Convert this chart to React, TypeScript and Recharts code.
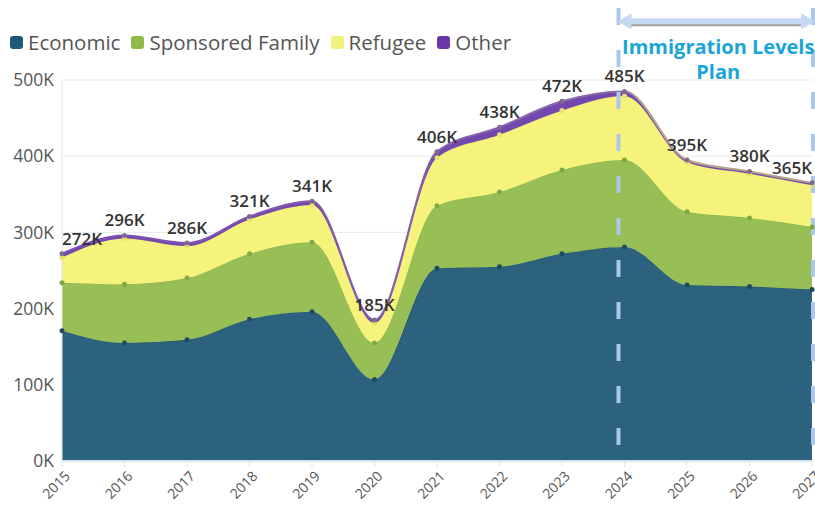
import {
  Area,
  AreaChart,
  CartesianGrid,
  LabelList,
  Legend,
  ReferenceLine,
  XAxis,
  YAxis,
} from "recharts";

// values in thousands
const years = [2015, 2016, 2017, 2018, 2019, 2020, 2021, 2022, 2023, 2024, 2025, 2026, 2027];
const economic = [171, 155, 159, 186, 196, 107, 253, 255, 272, 281, 231, 229, 225];
const sponsoredFamily = [63, 77, 81, 86, 91, 48, 82, 98, 110, 114, 96, 90, 82];
const refugee = [33, 60, 42, 45, 49, 26, 63, 75, 78, 84, 65, 58, 55];
const other = [5, 4, 4, 4, 5, 4, 8, 10, 12, 6, 3, 3, 3];
const totals = [272, 296, 286, 321, 341, 185, 406, 438, 472, 485, 395, 380, 365];
const yTicks = [0, 100, 200, 300, 400, 500];

const planStart = 2024;
const planEnd = 2027;
const planTitle = ["Immigration Levels", "Plan"];

const W = 815;
const H = 505;
const margin = { top: 80, right: 3, bottom: 0, left: 10 };
const Y_AXIS_W = 52;
const plotLeft = margin.left + Y_AXIS_W;
const plotRight = W - margin.right;

const font = "'Open Sans', 'Noto Sans', sans-serif";

const series = [
  { key: "economic", name: "Economic", fill: "#2d627e", stroke: "#245570", dot: "#1e4a62", legend: "#1f5878" },
  { key: "family", name: "Sponsored Family", fill: "#97bf56", stroke: "#8ab34a", dot: "#7fa843", legend: "#8dbb46" },
  { key: "refugee", name: "Refugee", fill: "#f6f37c", stroke: "#ece873", dot: "#e6e26a", legend: "#f0f27a" },
  { key: "other", name: "Other", fill: "#7447ad", stroke: "url(#otherStroke)", dot: "#7d6a8c", legend: "#6a36a8" },
];

const data = years.map((year, i) => ({
  year,
  economic: economic[i],
  family: sponsoredFamily[i],
  refugee: refugee[i],
  other: other[i],
  total: totals[i],
}));

function TotalLabel(props: any) {
  const { x, y, value } = props;
  const text = `${value}K`;
  const half = text.length * 5;
  const cx = Math.max(plotLeft + half, Math.min(plotRight - half, x));
  return (
    <text
      x={cx}
      y={y - 9}
      textAnchor="middle"
      fontFamily={font}
      fontSize={17}
      fontWeight={600}
      fill="#333"
    >
      {text}
    </text>
  );
}

function YearTick(props: any) {
  const { x, y, payload } = props;
  const tx = x + 2;
  const ty = y + 1;
  return (
    <text
      x={tx}
      y={ty}
      dy="0.71em"
      textAnchor="end"
      transform={`rotate(-45, ${tx}, ${ty})`}
      fontFamily={font}
      fontSize={14}
      fill="#555"
    >
      {payload.value}
    </text>
  );
}

function PlanLine(props: any) {
  const { x1, y1, y2, dx = 0 } = props;
  const bottom = Math.max(y1, y2);
  return (
    <line
      x1={x1 + dx}
      x2={x1 + dx}
      y1={8}
      y2={bottom}
      stroke="#a9c8ec"
      strokeWidth={4}
      strokeDasharray="17 25"
    />
  );
}

function PlanArrow(props: any) {
  const { x1, x2, y1 } = props;
  const left = Math.min(x1, x2) - 7;
  const right = Math.max(x1, x2) + 3;
  const mid = (x1 + x2) / 2;
  return (
    <g>
      <line x1={left + 8} x2={right - 8} y1={y1 + 3} y2={y1 + 3} stroke="#555" strokeOpacity={0.55} strokeWidth={4} />
      <line x1={left + 8} x2={right - 8} y1={y1} y2={y1} stroke="#c4d9f1" strokeWidth={6} />
      <polygon points={`${left},${y1} ${left + 14},${y1 - 8} ${left + 14},${y1 + 8}`} fill="#c4d9f1" />
      <polygon points={`${right},${y1} ${right - 14},${y1 - 8} ${right - 14},${y1 + 8}`} fill="#c4d9f1" />
      {planTitle.map((t, i) => (
        <text
          key={t}
          x={mid}
          y={y1 + 33 + i * 25}
          textAnchor="middle"
          fontFamily={font}
          fontSize={20}
          fontWeight={700}
          fill="#1aa5d8"
        >
          {t}
        </text>
      ))}
    </g>
  );
}

function LegendContent() {
  return (
    <div style={{ display: "flex", alignItems: "center", fontFamily: font, fontSize: 20.5, color: "#555" }}>
      {series.map((s) => (
        <div key={s.key} style={{ display: "flex", alignItems: "center", marginRight: 11 }}>
          <span
            style={{
              display: "inline-block",
              width: 13,
              height: 13,
              borderRadius: 3,
              background: s.legend,
              marginRight: 5,
            }}
          />
          <span>{s.name}</span>
        </div>
      ))}
    </div>
  );
}

export default function App() {
  const splitAt = years.indexOf(planStart) / (years.length - 1);
  return (
    <div style={{ position: "absolute", left: 0, top: 0, width: W, height: H, background: "#fff" }}>
      <AreaChart width={W} height={H} data={data} margin={margin}>
        <defs>
          <linearGradient id="otherStroke" gradientUnits="userSpaceOnUse" x1={plotLeft} x2={plotRight} y1={0} y2={0}>
            <stop offset={0} stopColor="#7a4fb3" />
            <stop offset={splitAt} stopColor="#8a6aa8" />
            <stop offset={splitAt + 0.02} stopColor="#b4a48c" />
            <stop offset={1} stopColor="#b4a48c" />
          </linearGradient>
        </defs>
        <CartesianGrid vertical={false} stroke="#e9e9e9" />
        <XAxis
          dataKey="year"
          height={44}
          interval={0}
          axisLine={{ stroke: "#d7e4f0", strokeWidth: 2 }}
          tickLine={{ stroke: "#dfe7ee" }}
          tick={YearTick}
        />
        <YAxis
          width={Y_AXIS_W}
          domain={[0, 500]}
          ticks={yTicks}
          tickFormatter={(v) => `${v}K`}
          axisLine={{ stroke: "#e3e3e3" }}
          tickLine={false}
          tick={{ fontSize: 17.5, fill: "#555", fontFamily: font }}
        />
        <Legend
          layout="horizontal"
          verticalAlign="middle"
          align="center"
          wrapperStyle={{ top: 28, left: 10, width: "auto" }}
          content={() => <LegendContent />}
        />
        {series.map((s) => (
          <Area
            key={s.key}
            dataKey={s.key}
            name={s.name}
            stackId="1"
            type="monotone"
            fill={s.fill}
            fillOpacity={1}
            stroke={s.stroke}
            strokeWidth={s.key === "other" ? 2 : 1}
            dot={{ r: 2.5, fill: s.dot, stroke: "none" }}
            activeDot={false}
            isAnimationActive={false}
          >
            {s.key === "other" && <LabelList dataKey="total" content={TotalLabel} />}
          </Area>
        ))}
        <ReferenceLine x={planStart} ifOverflow="visible" shape={(p: any) => <PlanLine {...p} dx={-6} />} />
        <ReferenceLine x={planEnd} ifOverflow="visible" shape={(p: any) => <PlanLine {...p} dx={1} />} />
        <ReferenceLine
          segment={[
            { x: planStart, y: 577 },
            { x: planEnd, y: 577 },
          ]}
          ifOverflow="visible"
          shape={PlanArrow}
        />
      </AreaChart>
    </div>
  );
}
